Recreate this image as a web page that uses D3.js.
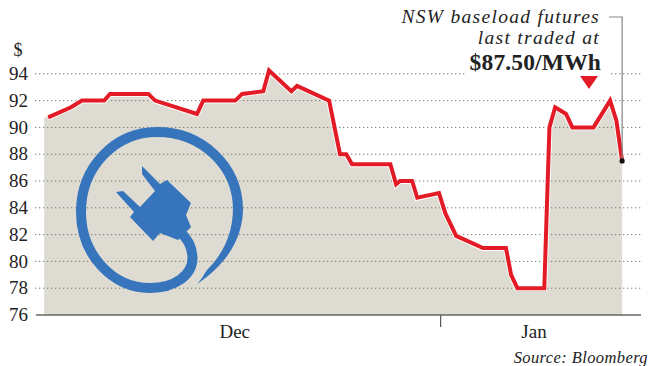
<!DOCTYPE html>
<html>
<head>
<meta charset="utf-8">
<script src="https://cdnjs.cloudflare.com/ajax/libs/d3/7.8.5/d3.min.js"></script>
<style>
  html, body { margin: 0; padding: 0; background: #fff; }
  svg { display: block; }
  text { font-family: "Liberation Serif", serif; fill: #222; }
</style>
</head>
<body>
<svg id="chart"></svg>
<script>
// trading sessions counted from the left end of the axis
const sessions = [0.9, 4.9, 6.8, 10.7, 11.7, 18.4, 19.6, 26.9, 28, 33.6, 34.8, 38.5, 39.5, 43.4, 44.4, 50, 51.9, 53, 54, 60.7, 61.7, 62.4, 64.5, 65.4, 69.2, 70.3, 72.2, 76.9, 80.9, 81.8, 82.9, 87.6, 88.5, 89.5, 91.4, 92.5, 96.2, 99.1, 100.2, 101.2];
const prices = [90.75, 91.5, 92, 92, 92.5, 92.5, 92, 91, 92, 92, 92.5, 92.7, 94.25, 92.7, 93.1, 92, 88, 88, 87.25, 87.25, 85.75, 86, 86, 84.75, 85.1, 83.6, 81.9, 81, 81, 79, 78, 78, 90, 91.5, 91, 90, 90, 92, 90.5, 87.5];
const yTicks = [76, 78, 80, 82, 84, 86, 88, 90, 92, 94];
const monthNames = ['Dec', 'Jan'];
const monthCentres = [33.5, 85.8];
const monthBreaks = [69.4];
const noteLines = ['NSW baseload futures', 'last traded at'];
const noteValue = '$87.50/MWh';
const sourceText = 'Source: Bloomberg';

const width = 650, height = 366;
const svg = d3.select('#chart').attr('width', width).attr('height', height);

const xScale = d3.scaleLinear().domain([0, 104.5]).range([43, 641]);
const yScale = d3.scaleLinear().domain([76, 94]).range([315, 73.8]);

const points = sessions.map((s, i) => ({ s, v: prices[i] }));
// shaded area starts a little left of the first price
const areaPoints = [{ s: 0.2, v: prices[0] }].concat(points);

const area = d3.area()
  .x(d => xScale(d.s))
  .y0(yScale(76))
  .y1(d => yScale(d.v));

svg.append('path')
  .attr('d', area(areaPoints))
  .attr('fill', '#dedcd2');

// dotted grid
svg.append('g')
  .selectAll('line')
  .data(yTicks.slice(1))
  .join('line')
  .attr('x1', 35)
  .attr('x2', 641)
  .attr('y1', d => yScale(d))
  .attr('y2', d => yScale(d))
  .attr('stroke', '#77776f')
  .attr('stroke-width', 1)
  .attr('stroke-dasharray', '1.3 2.7');

// the note sits on a white patch that cuts the top grid line
svg.append('rect')
  .attr('x', 465).attr('y', 66).attr('width', 145).attr('height', 14)
  .attr('fill', '#fff');

// plug logo
const logo = svg.append('g');
logo.append('path')
  .attr('d', 'M238,210 C238,166 202,132 157,132 C115,132 81,167 81,212 C81,254 112,288 150,288 C175,288 193,275 192.5,257 C192,246 187,238 180,232')
  .attr('fill', 'none')
  .attr('stroke', '#3674bb')
  .attr('stroke-width', 10);
logo.append('path')
  .attr('d', 'M243,208 C243,235 230,262 197,284 C203,278 205,272 207,270 C222,255 233,235 233,208 Z')
  .attr('fill', '#3674bb');
logo.append('path')
  .attr('d', 'M167,180 L191,203 L186,215 L191,227 L178,240 L160,233 L153,241 L130,217 L134,212 L116,192 L123,191 L140,207 L155,191 L142,174 L142,166 L160,184 Z')
  .attr('fill', '#3674bb');

// y axis
const yAxis = d3.axisLeft(yScale).tickValues(yTicks).tickSize(0).tickPadding(0);
svg.append('g')
  .attr('transform', 'translate(28,0)')
  .call(yAxis)
  .call(g => g.select('.domain').remove())
  .call(g => g.selectAll('text')
    .attr('font-family', '"Liberation Serif", serif')
    .attr('font-size', 19)
    .attr('fill', '#222')
    .attr('dy', '0.3em'));

svg.append('text')
  .attr('x', 18).attr('y', 56)
  .attr('text-anchor', 'middle')
  .attr('font-size', 18)
  .text('$');

// x axis
const xAxis = d3.axisBottom(xScale).tickValues(monthBreaks).tickSize(12).tickFormat('');
svg.append('g')
  .attr('transform', `translate(0,${yScale(76)})`)
  .call(xAxis)
  .call(g => g.select('.domain').remove())
  .call(g => g.selectAll('.tick line').attr('stroke', '#555').attr('stroke-width', 1.2));

svg.append('line')
  .attr('x1', 36).attr('x2', 641)
  .attr('y1', yScale(76)).attr('y2', yScale(76))
  .attr('stroke', '#666660')
  .attr('stroke-width', 1.6);

svg.append('g')
  .selectAll('text')
  .data(monthNames)
  .join('text')
  .attr('x', (d, i) => xScale(monthCentres[i]))
  .attr('y', 338)
  .attr('text-anchor', 'middle')
  .attr('font-size', 19)
  .text(d => d);

// price line with a white halo
const line = d3.line()
  .x(d => xScale(d.s))
  .y(d => yScale(d.v));

svg.append('path')
  .attr('d', line(points))
  .attr('fill', 'none')
  .attr('stroke', '#fff')
  .attr('stroke-width', 5.8)
  .attr('stroke-linejoin', 'miter');

svg.append('path')
  .attr('d', line(points))
  .attr('fill', 'none')
  .attr('stroke', '#e31b26')
  .attr('stroke-width', 4)
  .attr('stroke-linejoin', 'miter');

// annotation
const last = points[points.length - 1];
svg.append('path')
  .attr('d', `M609,17 H${xScale(last.s)} V${yScale(last.v)}`)
  .attr('fill', 'none')
  .attr('stroke', '#858585')
  .attr('stroke-width', 1.2);

svg.append('circle')
  .attr('cx', xScale(last.s))
  .attr('cy', yScale(last.v))
  .attr('r', 2.6)
  .attr('fill', '#111');

svg.append('g')
  .selectAll('text')
  .data(noteLines)
  .join('text')
  .attr('x', 600)
  .attr('y', (d, i) => 22.5 + i * 21.7)
  .attr('text-anchor', 'end')
  .attr('font-size', 19.5)
  .attr('font-style', 'italic')
  .attr('letter-spacing', 1.3)
  .text(d => d);

svg.append('text')
  .attr('x', 601).attr('y', 69.5)
  .attr('text-anchor', 'end')
  .attr('font-size', 23.5)
  .attr('font-weight', 'bold')
  .attr('letter-spacing', 0.15)
  .attr('fill', '#1a1a1a')
  .text(noteValue);

svg.append('path')
  .attr('d', 'M580,76 H598 L589,89 Z')
  .attr('fill', '#e31b26');

svg.append('text')
  .attr('x', 648).attr('y', 363)
  .attr('text-anchor', 'end')
  .attr('font-size', 16.5)
  .attr('font-style', 'italic')
  .attr('letter-spacing', 0.4)
  .text(sourceText);
</script>
</body>
</html>
